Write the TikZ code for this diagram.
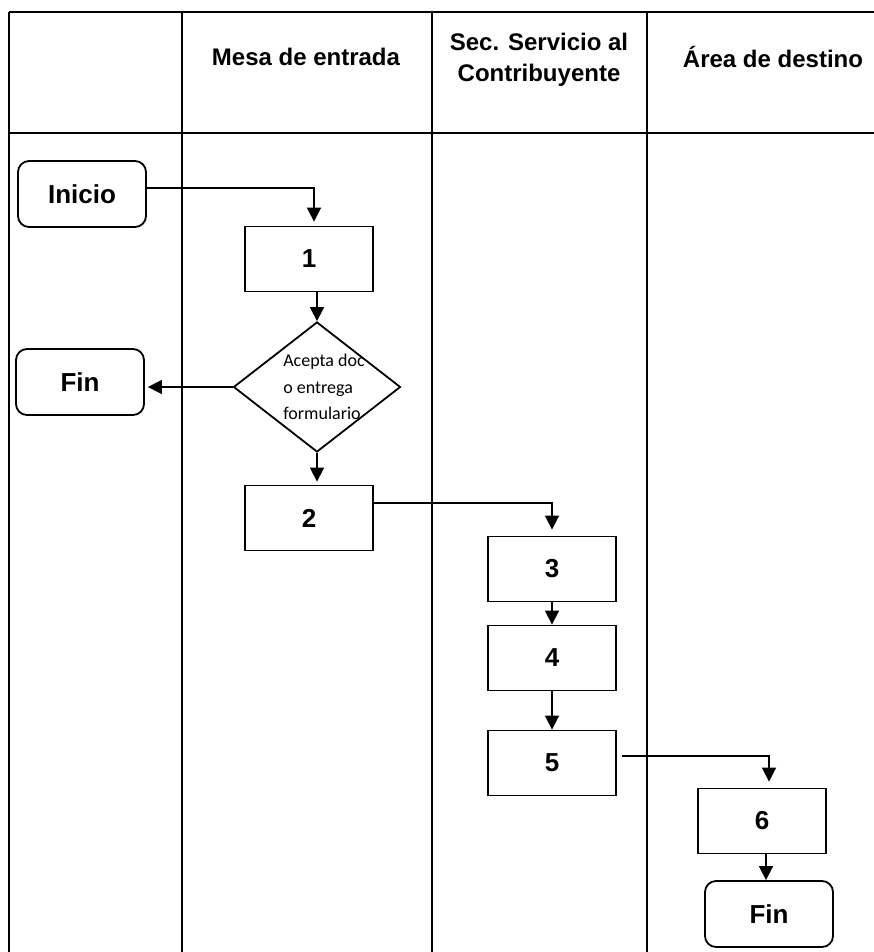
\documentclass[tikz,border=0pt]{standalone}
\usepackage{fontspec}
\setmainfont{Liberation Sans}
\newfontfamily\calibri{Carlito}
\usetikzlibrary{shapes.geometric,arrows.meta}

\tikzset{
    lane/.style={line width=2.4pt},
    paso/.style={draw, line width=1.8pt, minimum width=128pt, minimum height=65pt,
        inner sep=0pt, font=\bfseries\fontsize{26}{30}\selectfont},
    terminal/.style={paso, rounded corners=11pt, minimum height=66pt},
    decision/.style={draw, diamond, line width=1.8pt, minimum width=167pt,
        minimum height=130pt, inner sep=0pt},
    dectexto/.style={font=\calibri\fontsize{18}{26.5}\selectfont, align=left, xshift=7pt},
    titulo/.style={font=\bfseries\fontsize{24}{31}\selectfont, align=center},
    flecha/.style={line width=1.6pt, -{Triangle[length=14pt,width=14pt]}}
}

\begin{document}
\begin{tikzpicture}[x=1pt,y=-1pt]
    \useasboundingbox (0,0) rectangle (874,952);
    
    \draw[lane] (9,12) -- (874,12)
    (9,133) -- (874,133)
    (9,12) -- (9,952)
    (182,12) -- (182,952)
    (432,12) -- (432,952)
    (647,12) -- (647,952);
    
    \node[titulo] (mesa) at (306,57) {Mesa de entrada};
    \node[titulo] (sec) at (539,60) {Sec. Servicio al\\Contribuyente};
    \node[titulo] (area) at (773,57) {Área de destino};
    
    \node[terminal] (inicio) at (82,194) {Inicio};
    \node[paso] (p1) at (309,259) {1};
    \node[decision, label={[dectexto]center:{Acepta doc\\o entrega\\formulario}}] (dec) at (317,387) {};
    \node[terminal] (fin1) at (80,382) {Fin};
    \node[paso] (p2) at (309,518) {2};
    
    \node[paso] (p3) at (552,569) {3};
    \node[paso] (p4) at (552,658) {4};
    \node[paso] (p5) at (552,763) {5};
    
    \node[paso] (p6) at (762,821) {6};
    \node[terminal] (fin2) at (769,914) {Fin};
    
    \draw[flecha, shorten >=4pt] ([yshift=6pt]inicio.east) -| ([xshift=5pt]p1.north);
    \draw[flecha] (p1.south -| dec.north) -- (dec.north);
    \draw[flecha, shorten >=3pt] (dec.west) -- (dec.west -| fin1.east);
    \draw[flecha, shorten >=3pt] (dec.south) -- (dec.south |- p2.north);
    \draw[flecha, shorten >=6pt] ([yshift=15pt]p2.east) -| (p3.north);
    \draw[flecha] (p3.south) -- (p4.north);
    \draw[flecha] (p4.south) -- (p5.north);
    \draw[flecha, shorten >=6pt] ([xshift=5pt,yshift=7pt]p5.east) -| ([xshift=7pt]p6.north);
    \draw[flecha] ([xshift=4pt]p6.south) -- ([xshift=4pt]p6.south |- fin2.north);
    
\end{tikzpicture}
\end{document}
